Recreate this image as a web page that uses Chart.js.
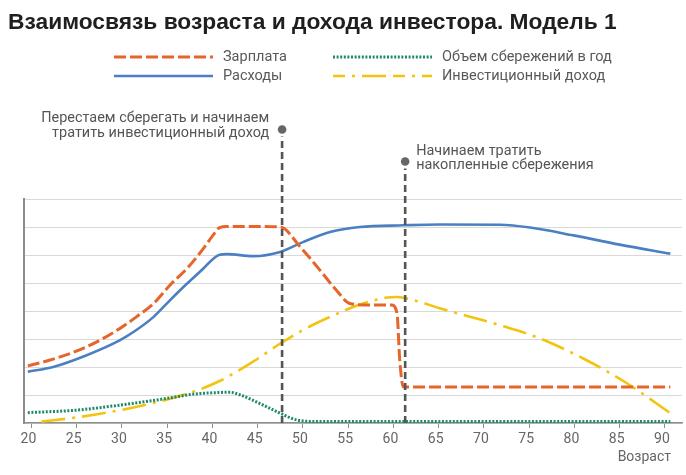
<!DOCTYPE html>
<html><head><meta charset="utf-8">
<script src="https://cdn.jsdelivr.net/npm/chart.js@4.4.1/dist/chart.umd.min.js"></script>
<style>html,body{margin:0;padding:0;background:#fff}#wrap{width:686px;height:475px;position:relative}</style>
</head><body><div id="wrap"><canvas id="c"></canvas></div>
<script>
const titleText = 'Взаимосвязь возраста и дохода инвестора. Модель 1';
const xAxisLabel = 'Возраст';
const seriesNames = ['Зарплата', 'Расходы', 'Объем сбережений в год', 'Инвестиционный доход'];
const xTickValues = [20, 25, 30, 35, 40, 45, 50, 55, 60, 65, 70, 75, 80, 85, 90];

const salaryAges   = [19.6, 22.4, 26.1, 29.8, 31.6, 33.5, 35.3, 37.2, 39.0, 40.1, 40.8, 41.6, 44.0, 47.5, 49.7, 51.9, 53.7, 55.2, 57.5, 59.8, 60.4, 60.7, 61.1, 75.0, 90.6];
const salaryValues = [2.04, 2.28, 2.72, 3.38, 3.79, 4.27, 4.92, 5.52, 6.23, 6.72, 6.98, 7.02, 7.02, 7.00, 6.29, 5.45, 4.74, 4.27, 4.21, 4.21, 3.91, 2.25, 1.29, 1.29, 1.29];

const expenseAges   = [19.6, 22.4, 26.1, 29.8, 31.6, 33.5, 35.3, 37.2, 39.0, 40.1, 40.8, 41.6, 44.5, 47.5, 50.0, 53.0, 56.3, 61.1, 65.1, 71.8, 75.1, 79.9, 85.0, 90.6];
const expenseValues = [1.83, 2.00, 2.42, 2.96, 3.32, 3.79, 4.38, 4.98, 5.52, 5.87, 6.01, 6.03, 5.96, 6.11, 6.46, 6.82, 7.00, 7.06, 7.09, 7.08, 6.98, 6.70, 6.37, 6.05];

const savingAges   = [19.6, 25.0, 29.8, 35.0, 37.9, 40.8, 41.9, 43.1, 45.6, 47.5, 49.3, 51.9, 70.0, 90.6];
const savingValues = [0.37, 0.46, 0.64, 0.88, 1.03, 1.09, 1.10, 1.00, 0.64, 0.35, 0.11, 0.05, 0.05, 0.05];

const investAges   = [21.1, 25.0, 29.8, 35.0, 37.9, 40.8, 44.5, 47.5, 50.0, 53.0, 56.3, 59.3, 60.4, 62.2, 65.1, 71.8, 76.2, 81.3, 85.8, 90.6];
const investValues = [0.05, 0.20, 0.46, 0.84, 1.12, 1.50, 2.19, 2.84, 3.32, 3.79, 4.23, 4.48, 4.50, 4.39, 4.10, 3.49, 3.02, 2.25, 1.42, 0.35];

const markerAges = [47.7, 61.3];
const markerTops = [10.48, 9.34];
const noteStopSaving = ['Перестаем сберегать и начинаем', 'тратить инвестиционный доход'];
const noteSpendSavings = ['Начинаем тратить', 'накопленные сбережения'];

const COLORS = { salary: '#E5652B', expense: '#4A80C2', saving: '#1E8A6C', invest: '#F2C40F', marker: '#555555' };
const DASHES = { salary: [12, 4], expense: [], saving: [2, 1.6], invest: [24, 7, 3, 7] };
const WIDTHS = { salary: 3, expense: 2.6, saving: 3, invest: 2.6 };
const FONT = '"Liberation Sans", Arial, sans-serif';
const TEXT_FONT = 'Roboto, "Liberation Sans", Arial, sans-serif';

const pts = (xs, ys) => xs.map((x, i) => ({ x: x, y: ys[i] }));

function markerDataset(i) {
  return {
    data: [{ x: markerAges[i], y: 0 }, { x: markerAges[i], y: markerTops[i] - 0.25 }],
    borderColor: COLORS.marker, borderWidth: 2.6, borderDash: [7, 4],
    pointRadius: 0, pointHoverRadius: 0, clip: false, tension: 0, fill: false
  };
}
function seriesDataset(key, xs, ys) {
  return {
    data: pts(xs, ys), borderColor: COLORS[key], borderWidth: WIDTHS[key], borderDash: DASHES[key],
    cubicInterpolationMode: 'monotone', pointRadius: 0, pointHoverRadius: 0, fill: false, borderCapStyle: 'butt'
  };
}

function fitFont(ctx, text, weight, family, width) {
  ctx.font = weight + ' 20px ' + family;
  return 20 * width / ctx.measureText(text).width;
}

const decor = {
  id: 'decor',
  afterDraw(chart) {
    const ctx = chart.ctx;
    const xs = chart.scales.x, ys = chart.scales.y;
    ctx.save();
    // title
    const tSize = fitFont(ctx, titleText, 'bold', FONT, 609);
    ctx.font = 'bold ' + tSize.toFixed(2) + 'px ' + FONT;
    ctx.fillStyle = '#1f1f1f';
    ctx.textBaseline = 'middle';
    ctx.textAlign = 'left';
    ctx.fillText(titleText, 8, 23);
    // legend
    const lSize = fitFont(ctx, seriesNames[2], 'normal', TEXT_FONT, 170);
    const legendItems = [
      { key: 'salary', name: seriesNames[0], x: 114, y: 57 },
      { key: 'saving', name: seriesNames[2], x: 333, y: 57 },
      { key: 'expense', name: seriesNames[1], x: 114, y: 76 },
      { key: 'invest', name: seriesNames[3], x: 333, y: 76 }
    ];
    legendItems.forEach(it => {
      ctx.beginPath();
      ctx.strokeStyle = COLORS[it.key];
      ctx.lineWidth = WIDTHS[it.key];
      ctx.setLineDash(it.key === 'invest' ? [12, 7, 3, 7, 24, 7] : DASHES[it.key]);
      ctx.moveTo(it.x, it.y); ctx.lineTo(it.x + 99, it.y); ctx.stroke();
      ctx.setLineDash([]);
      ctx.font = lSize.toFixed(2) + 'px ' + TEXT_FONT;
      ctx.fillStyle = '#595959';
      ctx.textAlign = 'left';
      ctx.fillText(it.name, it.x + 109, it.y);
    });
    // marker dots
    ctx.fillStyle = '#666';
    markerAges.forEach((a, i) => {
      ctx.beginPath();
      ctx.arc(xs.getPixelForValue(a), ys.getPixelForValue(markerTops[i]), 4.3, 0, Math.PI * 2);
      ctx.fill();
    });
    // annotations
    const aSize = fitFont(ctx, noteStopSaving[0], 'normal', TEXT_FONT, 228);
    ctx.font = aSize.toFixed(2) + 'px ' + TEXT_FONT;
    ctx.fillStyle = '#555';
    const d1x = xs.getPixelForValue(markerAges[0]), d1y = ys.getPixelForValue(markerTops[0]);
    const d2x = xs.getPixelForValue(markerAges[1]), d2y = ys.getPixelForValue(markerTops[1]);
    ctx.textAlign = 'right';
    ctx.fillText(noteStopSaving[0], d1x - 13, d1y - 11);
    ctx.fillText(noteStopSaving[1], d1x - 13, d1y + 4);
    ctx.textAlign = 'left';
    ctx.fillText(noteSpendSavings[0], d2x + 11, d2y - 10);
    ctx.fillText(noteSpendSavings[1], d2x + 11, d2y + 4);
    // x axis title
    ctx.font = '14px ' + TEXT_FONT;
    ctx.fillStyle = '#666';
    ctx.textAlign = 'right';
    ctx.fillText(xAxisLabel, 671, 457);
    ctx.restore();
  }
};

new Chart(document.getElementById('c'), {
  type: 'line',
  data: {
    datasets: [
      markerDataset(0), markerDataset(1),
      seriesDataset('salary', salaryAges, salaryValues),
      seriesDataset('expense', expenseAges, expenseValues),
      seriesDataset('saving', savingAges, savingValues),
      seriesDataset('invest', investAges, investValues)
    ]
  },
  options: {
    responsive: true, maintainAspectRatio: false, animation: false,
    layout: { padding: { left: 24, top: 199, right: 4, bottom: 0 } },
    plugins: { legend: { display: false }, tooltip: { enabled: false }, title: { display: false } },
    events: [],
    scales: {
      x: {
        type: 'linear', min: 19.18, max: 91.89,
        afterBuildTicks: s => { s.ticks = xTickValues.map(v => ({ value: v })); },
        afterFit: s => { s.height = 52; },
        ticks: { color: '#666', font: { size: 14, family: TEXT_FONT }, labelOffset: -3, padding: 3, maxRotation: 0, autoSkip: false },
        grid: { drawOnChartArea: false, drawTicks: true, tickLength: 5, tickColor: '#8c8c8c', tickWidth: 1 },
        border: { display: true, color: '#8c8c8c', width: 1.5 }
      },
      y: {
        type: 'linear', min: 0, max: 8,
        afterFit: s => { s.width = 0; },
        ticks: { display: false, stepSize: 1 },
        grid: { color: '#d9d9d9', lineWidth: 1, drawTicks: false },
        border: { display: true, color: '#8c8c8c', width: 2 }
      }
    }
  },
  plugins: [decor]
});
</script>
</body></html>
